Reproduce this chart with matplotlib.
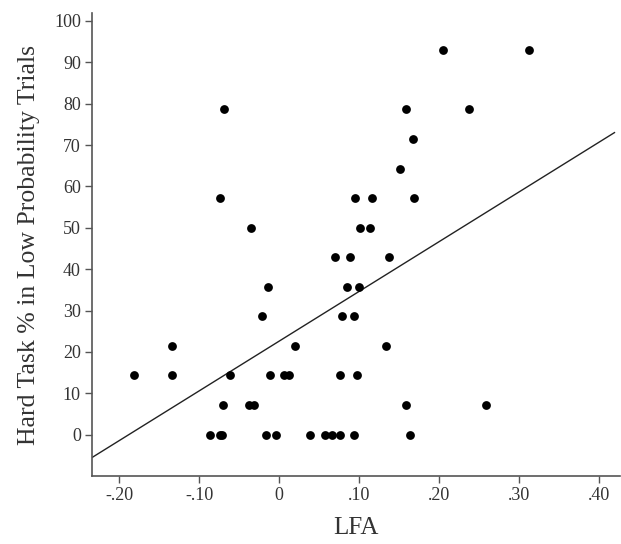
import numpy as np
import matplotlib as mpl
mpl.use("Agg")
import matplotlib.pyplot as plt

mpl.rcParams["font.family"] = "serif"
mpl.rcParams["font.serif"] = ["Liberation Serif", "DejaVu Serif"]

# LFA values and hard task %
lfa = [-0.181, -0.134, -0.134, -0.061, -0.070, -0.087, -0.074, -0.071,
       -0.038, -0.032, -0.022, -0.014, -0.012, -0.016, -0.004, 0.006,
       0.012, 0.020, 0.038, -0.069, -0.074, -0.035,
       0.205, 0.312, 0.158, 0.237, 0.167, 0.151, 0.095, 0.116, 0.168,
       0.101, 0.114, 0.070, 0.088, 0.137,
       0.085, 0.100, 0.079, 0.093, 0.133, 0.076, 0.097, 0.159, 0.258,
       0.057, 0.066, 0.076, 0.094, 0.163]
hard_pct = [14.3, 21.4, 14.3, 14.3, 7.1, 0, 0, 0,
            7.1, 7.1, 28.6, 35.7, 14.3, 0, 0, 14.3,
            14.3, 21.4, 0, 78.6, 57.1, 50,
            92.9, 92.9, 78.6, 78.6, 71.4, 64.3, 57.1, 57.1, 57.1,
            50, 50, 42.9, 42.9, 42.9,
            35.7, 35.7, 28.6, 28.6, 21.4, 14.3, 14.3, 7.1, 7.1,
            0, 0, 0, 0, 0]

# fit line endpoints
line_x = [-0.234, 0.419]
fit_slope = 120.3
fit_icpt = 22.6

fig = plt.figure(figsize=(6.21, 5.44), dpi=100)
ax = fig.add_axes([0.148, 0.125, 0.850, 0.851])

ax.scatter(lfa, hard_pct, s=40, color="black", zorder=3, linewidths=0)
lx = np.array(line_x)
ax.plot(lx, fit_slope * lx + fit_icpt, color="#222222", lw=1.0)

ax.set_xlim(-0.234, 0.4256)
ax.set_ylim(-10, 101.9)
ax.set_xticks([-0.2, -0.1, 0, 0.1, 0.2, 0.3, 0.4])
ax.set_xticklabels(["-.20", "-.10", "0", ".10", ".20", ".30", ".40"])
ax.set_yticks(range(0, 101, 10))

for s in ["top", "right"]:
    ax.spines[s].set_visible(False)
for s in ["left", "bottom"]:
    ax.spines[s].set_color("#555555")
    ax.spines[s].set_linewidth(1.2)
ax.tick_params(direction="out", length=5, width=1, color="#555555",
               labelsize=13, labelcolor="#333333", pad=3)

ax.set_xlabel("LFA", fontsize=18, color="#333333", labelpad=9)
ax.set_ylabel("Hard Task % in Low Probability Trials", fontsize=18.5,
              color="#333333", labelpad=10)

fig.savefig("out.png", dpi=100)
